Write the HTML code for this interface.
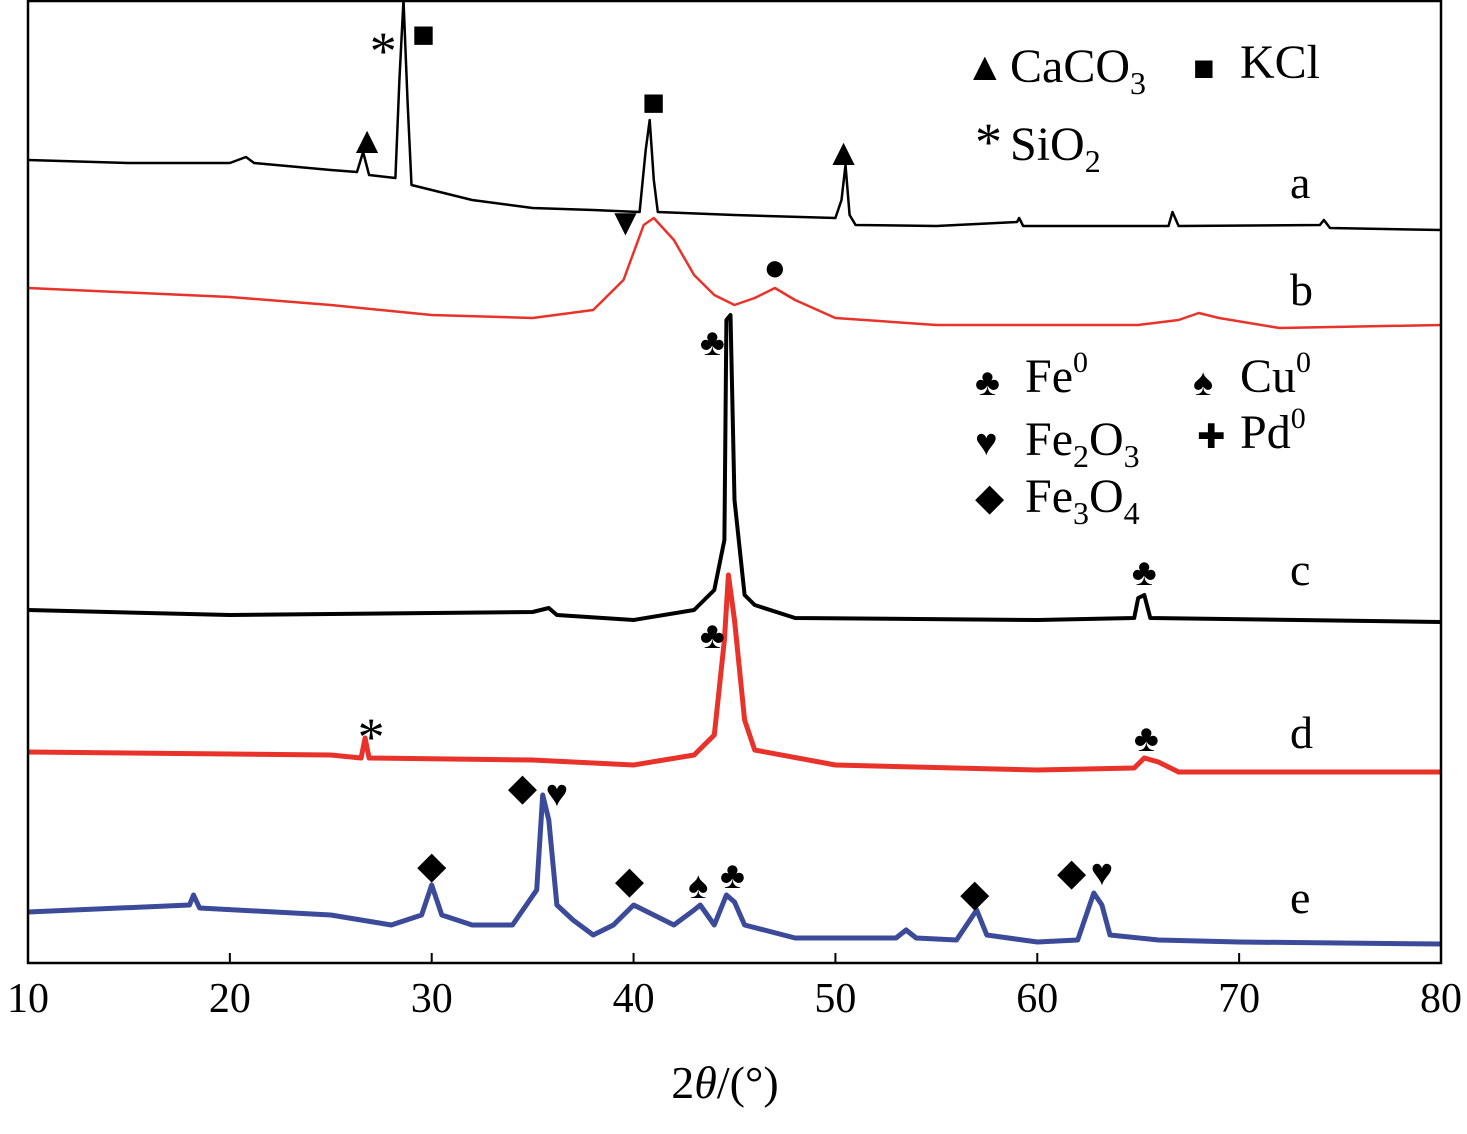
<!DOCTYPE html>
<html><head><meta charset="utf-8"><style>
body{margin:0;background:#fff;}
svg text{font-family:"Liberation Serif","DejaVu Serif",serif;}
</style></head><body>
<svg id="chart" width="1467" height="1129" viewBox="0 0 1467 1129" xmlns="http://www.w3.org/2000/svg">
<g id="series"></g>
<rect x="28" y="1" width="1413" height="962" fill="none" stroke="#000" stroke-width="2.5"/>
<g id="ticks"></g>
<text x="725" y="1098" font-size="46" text-anchor="middle">2<tspan font-style="italic">θ</tspan>/(°)</text>
<g font-size="48">
<text x="965" y="80" font-size="40">▲</text><text x="1010" y="82">CaCO<tspan font-size="32" dy="12">3</tspan></text>
<text x="1193" y="80" font-size="36">■</text><text x="1240" y="78">KCl</text>
<text x="975" y="160" font-size="54">*</text><text x="1010" y="160">SiO<tspan font-size="32" dy="12">2</tspan></text>
</g>
<g font-size="48">
<text x="975" y="395" font-size="38">♣</text><text x="1025" y="392">Fe<tspan font-size="30" dy="-20">0</tspan></text>
<text x="1193" y="395" font-size="38">♠</text><text x="1240" y="392">Cu<tspan font-size="30" dy="-20">0</tspan></text>
<text x="975" y="455" font-size="38">♥</text><text x="1025" y="455">Fe<tspan font-size="32" dy="12">2</tspan><tspan dy="-12">O</tspan><tspan font-size="32" dy="12">3</tspan></text>
<text x="1197" y="448" font-size="34">✚</text><text x="1240" y="448">Pd<tspan font-size="30" dy="-20">0</tspan></text>
<text x="975" y="510" font-size="38">◆</text><text x="1025" y="512">Fe<tspan font-size="32" dy="12">3</tspan><tspan dy="-12">O</tspan><tspan font-size="32" dy="12">4</tspan></text>
</g>
<g id="marks" font-size="38" text-anchor="middle"></g>
<g font-size="46">
<text x="1290" y="198">a</text><text x="1290" y="305">b</text><text x="1290" y="585">c</text><text x="1290" y="748">d</text><text x="1290" y="913">e</text>
</g>
</svg>
<script>
const tickValues=[10,20,30,40,50,60,70,80];
const aX=[10,15,20,20.8,21.2,25,26.3,26.6,26.9,28.2,28.4,28.6,28.8,29,30,32,35,38,40.3,40.6,40.8,41,41.2,45,50,50.3,50.5,50.7,51,55,59,59.1,59.3,66.5,66.7,67,74,74.2,74.5,80];
const aY=[803,800,800,806,800,793,791,811,788,785,883,963,863,778,773,763,755,753,751,813,843,783,751,748,745,763,798,748,738,737,741,745,737,737,751,737,738,743,735,733];
const bX=[10,20,25,30,35,38,39.5,40.5,41,42,43,44,45,46,47,48,50,55,65,67,68,69,72,80];
const bY=[675,666,658,648,645,653,683,738,745,723,688,668,658,665,675,663,645,638,638,643,650,645,635,638];
const cX=[10,20,35,35.8,36.2,40,43,44,44.5,44.6,44.8,45,45.5,46,48,60,64.8,65,65.3,65.6,80];
const cY=[353,348,351,355,348,343,353,373,423,643,648,463,368,358,345,343,345,365,368,345,341];
const dX=[10,25,26.5,26.7,26.9,35,40,43,44,44.5,44.7,45,45.5,46,50,60,64.8,65.3,66,67,80];
const dY=[211,208,205,225,205,203,198,208,228,323,388,343,243,213,198,193,195,205,201,191,191];
const eX=[10,18,18.2,18.5,25,28,29.5,30,30.5,32,34,35.2,35.5,35.8,36.2,37,38,39,40,41,42,43,43.3,44,44.6,45,45.5,48,53,53.5,54,56,57,57.5,60,62,62.8,63.2,63.6,66,70,80];
const eY=[51,58,68,55,48,38,48,78,48,38,38,73,168,143,58,43,28,38,58,48,38,53,58,38,68,61,38,25,25,33,25,23,53,28,21,23,70,58,28,23,21,19];
const X0=28,X1=1441,YB=963;
const xs=v=>X0+(v-10)/70*(X1-X0);
const ys=v=>Math.max(0,YB-v);
const sg=document.getElementById('series');
function line(xa,ya,color,w,name){
 const p=document.createElementNS('http://www.w3.org/2000/svg','path');
 p.setAttribute('d',xa.map((x,i)=>(i?'L':'M')+xs(x).toFixed(1)+' '+ys(ya[i]).toFixed(1)).join(''));
 p.setAttribute('fill','none');p.setAttribute('stroke',color);p.setAttribute('stroke-width',w);p.setAttribute('stroke-linejoin','round');
 
 
 sg.appendChild(p);
}
line(aX,aY,'#000',2.5,'series-a');
line(bX,bY,'#e8322a',2.5,'series-b');
line(cX,cY,'#000',4,'series-c');
line(dX,dY,'#e8322a',5,'series-d');
line(eX,eY,'#3c4a9a',5,'series-e');
const tg=document.getElementById('ticks');
tickValues.forEach(v=>{
 const t=document.createElementNS('http://www.w3.org/2000/svg','text');
 t.setAttribute('x',xs(v));t.setAttribute('y',1012);t.setAttribute('font-size','42');t.setAttribute('text-anchor','middle');
 t.textContent=v;
 
 
 tg.appendChild(t);
 const l=document.createElementNS('http://www.w3.org/2000/svg','line');
 l.setAttribute('x1',xs(v));l.setAttribute('x2',xs(v));l.setAttribute('y1',963);l.setAttribute('y2',953);l.setAttribute('stroke','#000');l.setAttribute('stroke-width','2');
 
 
 tg.appendChild(l);
});
const markSym=['▲','*','■','■','▲','▼','●','♣','♣','*','♣','♣','◆','◆','♥','◆','♠','♣','◆','◆','♥'];
const markX=[26.8,27.6,29.6,41,50.4,39.6,47,43.9,65.3,27,43.9,65.4,30,34.5,36.2,39.8,43.2,44.9,56.9,61.7,63.2];
const markY=[810,916,916,848,798,728,683,608,378,230,315,212,85,163,157,70,65,75,57,78,78];
const mg=document.getElementById('marks');
markSym.forEach((s,i)=>{
 const t=document.createElementNS('http://www.w3.org/2000/svg','text');
 t.setAttribute('x',xs(markX[i]));t.setAttribute('y',ys(markY[i]));
 if(s==='*'){t.setAttribute('font-size','54');t.setAttribute('dy','22');}
 t.textContent=s;
 
 
 mg.appendChild(t);
});
</script>
</body></html>
